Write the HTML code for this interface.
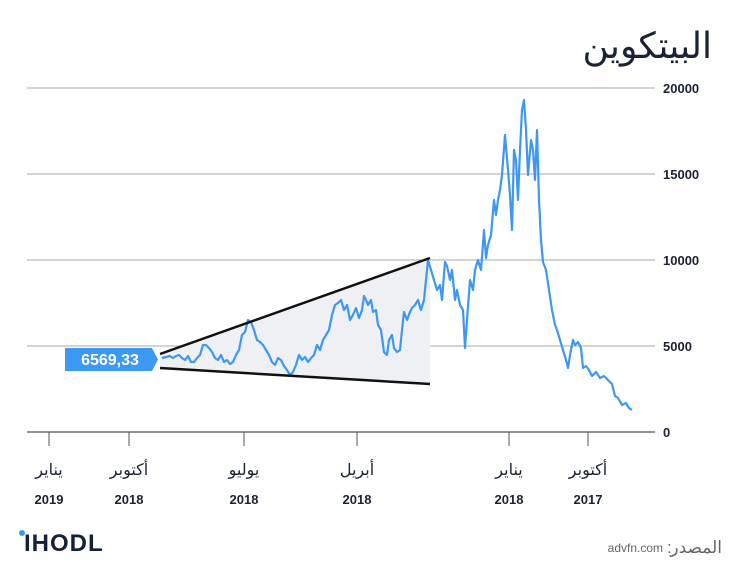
<!DOCTYPE html>
<html><head><meta charset="utf-8"><style>
body{margin:0;background:#fff;}
svg{display:block;font-family:"Liberation Sans","Noto Sans CJK SC",sans-serif;}
</style></head><body>
<svg width="750" height="581" viewBox="0 0 750 581">
<text x="712" y="58" font-size="36" text-anchor="end" fill="#1a2233" font-family="'DejaVu Sans','Noto Sans CJK SC',sans-serif">البيتكوين</text>
<g stroke="#aaa" stroke-width="1">
<line x1="27" y1="88" x2="655" y2="88"/>
<line x1="27" y1="174" x2="655" y2="174"/>
<line x1="27" y1="260" x2="655" y2="260"/>
<line x1="27" y1="346" x2="655" y2="346"/>
</g>
<line x1="27" y1="432" x2="655" y2="432" stroke="#555" stroke-width="1.2"/>
<g stroke="#555" stroke-width="1">
<line x1="49" y1="432" x2="49" y2="446"/><line x1="129" y1="432" x2="129" y2="446"/>
<line x1="244" y1="432" x2="244" y2="446"/><line x1="357" y1="432" x2="357" y2="446"/>
<line x1="509" y1="432" x2="509" y2="446"/><line x1="588" y1="432" x2="588" y2="446"/>
</g>
<g font-size="13" font-weight="bold" fill="#1a2233">
<text x="663" y="93">20000</text><text x="663" y="179">15000</text><text x="663" y="265">10000</text><text x="663" y="351">5000</text><text x="663" y="437">0</text>
</g>
<g font-size="16" fill="#1a2233" text-anchor="middle" font-family="'DejaVu Sans','Noto Sans CJK SC',sans-serif">
<text x="49" y="475">يناير</text><text x="129" y="475">أكتوبر</text><text x="244" y="475">يوليو</text><text x="357" y="475">أبريل</text><text x="509" y="475">يناير</text><text x="588" y="475">أكتوبر</text>
</g>
<g font-size="13" font-weight="bold" fill="#1a2233" text-anchor="middle">
<text x="49" y="504">2019</text><text x="129" y="504">2018</text><text x="244" y="504">2018</text><text x="357" y="504">2018</text><text x="509" y="504">2018</text><text x="588" y="504">2017</text>
</g>
<polygon points="160,354 430,258 430,384 160,368" fill="#eef0f3"/>
<polyline fill="none" stroke="#3d98f0" stroke-width="2.2" stroke-linejoin="round" points="632,410 629,408 626,403 622,405 618,398 615,396 612,384 608,380 604,376 600,378 596,372 592,376 589,370 586,366 583,368 581,348 578,342 575,345 573,340 570,355 568,368 566,360 563,350 560,340 557,330 555,325 552,310 549,290 546,270 543,262 541,240 539,200 537,130 535,180 533,150 531,140 528,175 526,130 524,100 522,110 520,150 518,200 516,160 514,150 512,230 510,195 508,170 505,135 502,175 500,190 498,200 496,215 494,200 491,235 488,245 486,258 484,230 481,270 478,260 475,270 473,290 470,280 467,320 465,348 463,310 460,305 457,290 455,300 452,270 450,280 447,266 445,262 442,300 440,285 437,290 434,280 431,270 428,260 426,280 424,300 421,310 418,300 415,305 412,308 410,312 407,320 404,312 402,330 400,350 397,352 394,348 392,335 389,340 387,355 384,352 381,330 378,325 376,310 373,312 371,300 368,305 366,300 364,296 362,310 359,318 356,308 353,315 350,320 347,305 344,310 341,300 338,303 335,305 332,315 329,330 326,335 323,340 320,350 317,345 314,355 311,358 308,362 305,357 302,360 299,355 296,365 293,372 290,375 287,370 284,366 281,360 278,358 275,365 272,362 269,355 266,350 263,345 260,342 257,340 254,330 251,322 248,320 245,332 242,335 239,350 236,355 233,362 230,364 227,360 224,362 221,355 218,360 215,358 212,352 209,348 206,345 203,345 200,355 197,358 194,362 191,362 188,356 185,360 182,358 179,355 176,356 173,358 170,356 166,357 162,358"/>
<line x1="160" y1="354" x2="430" y2="258" stroke="#111" stroke-width="2.5"/>
<line x1="160" y1="368" x2="430" y2="384" stroke="#111" stroke-width="2.5"/>
<polygon points="65,348 152,348 158,359.5 152,371 65,371" fill="#3d98f0"/>
<text x="110" y="365" font-size="16" font-weight="bold" fill="#fff" text-anchor="middle">6569,33</text>
<circle cx="22" cy="533" r="3" fill="#3d98f0"/>
<text x="24" y="551" font-size="24" font-weight="bold" fill="#13213a" letter-spacing="1">IHODL</text>
<text x="663" y="552" font-size="12" fill="#666" text-anchor="end">advfn.com</text>
<text x="667" y="553" font-size="17" fill="#666" font-family="'Liberation Sans',sans-serif">:</text>
<text x="722" y="553" font-size="17" fill="#666" text-anchor="end" font-family="'DejaVu Sans','Noto Sans CJK SC',sans-serif">المصدر</text>
</svg>
</body></html>
